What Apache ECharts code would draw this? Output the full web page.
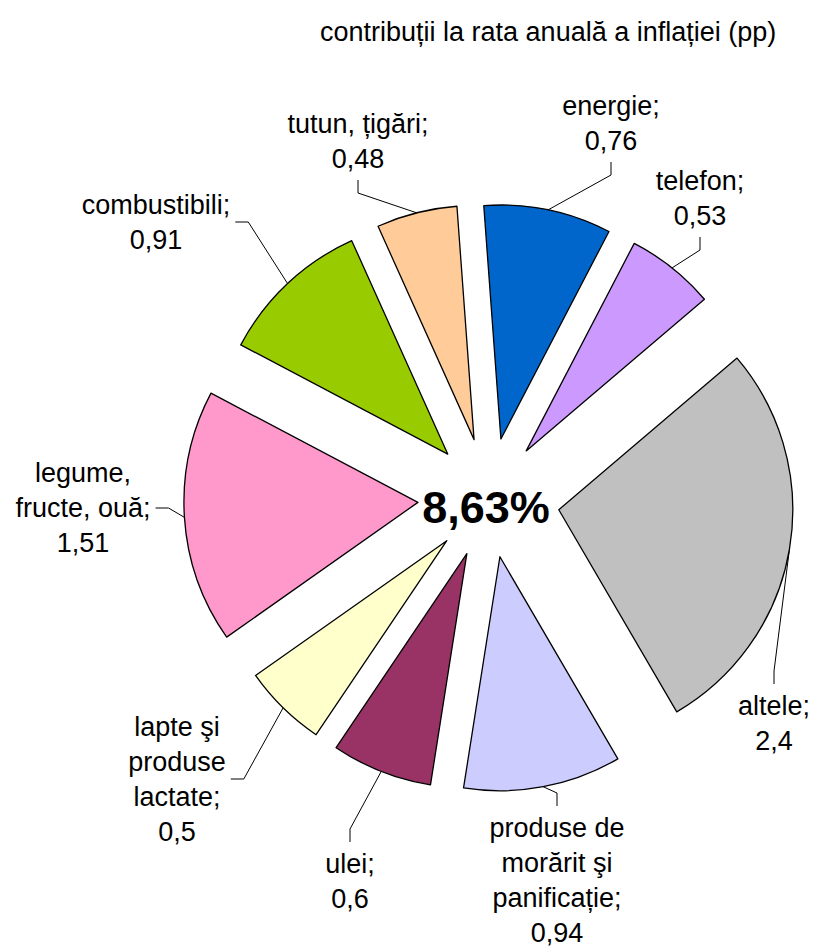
<!DOCTYPE html>
<html>
<head>
<meta charset="utf-8">
<script src="https://cdn.jsdelivr.net/npm/echarts@6/dist/echarts.min.js"></script>
<style>
    html, body { margin: 0; padding: 0; background: #fff; }
    #main { width: 814px; height: 950px; }
</style>
</head>
<body>
<div id="main"></div>
<script>
// contribuții la rata anuală a inflației

const categories = ['energie', 'telefon', 'altele', 'produse de\nmorărit şi\npanificație', 'ulei',
    'lapte şi\nproduse\nlactate', 'legume,\nfructe, ouă', 'combustibili', 'tutun, țigări'];
const values = [0.76, 0.53, 2.4, 0.94, 0.6, 0.5, 1.51, 0.91, 0.48];
const colors = ['#0066CC', '#CC99FF', '#C0C0C0', '#CCCCFF', '#993366', '#FFFFCC', '#FF99CC', '#99CC00', '#FFCC99'];

// layout: how far each slice is pulled out, where its label sits
const explode = [60, 60, 71, 60, 60, 60, 71, 60, 60];
const labelPos = [[611, 123], [700, 198], [774, 723], [557, 880], [350, 881],
    [177, 779], [83, 508], [156, 222], [358, 141]];
const labelSide = ['bottom', 'bottom', 'top', 'top', 'top', 'right', 'right', 'right', 'bottom'];

const CX = 488.8, CY = 497.8, R = 234, START = 94.2;
const FONT = '"Liberation Sans", Arial, sans-serif';

const total = values.reduce((a, b) => a + b, 0);
const fmt = v => String(v).replace('.', ',');

// mid angle of each slice (clockwise from 12 o'clock, degrees)
const midAngles = [];
let acc = 0;
values.forEach(v => {
    midAngles.push((90 - START) + (acc + v / 2) / total * 360);
    acc += v;
});

// centre of a pulled-out slice
function centerOf(i) {
    const a = midAngles[i] * Math.PI / 180;
    return [CX + explode[i] * Math.sin(a), CY - explode[i] * Math.cos(a)];
}

function anchorOf(i) {
    const a = midAngles[i] * Math.PI / 180;
    const c = centerOf(i);
    return [c[0] + R * Math.sin(a), c[1] - R * Math.cos(a)];
}

function layoutLabel(params) {
    const i = params.seriesIndex;
    const [x, y] = labelPos[i];
    const w = params.labelRect.width, h = params.labelRect.height;
    let end, elbow;
    if (labelSide[i] === 'bottom') {
        end = [x, y + h / 2 + 4];
        elbow = [x, y + h / 2 + 17];
    } else if (labelSide[i] === 'top') {
        end = [x, y - h / 2 - 4];
        elbow = [x, y - h / 2 - 17];
    } else {
        end = [x + w / 2 + 5, y];
        elbow = [x + w / 2 + 18, y];
    }
    return {
        x: x, y: y, align: 'center', verticalAlign: 'middle',
        labelLinePoints: [anchorOf(i), elbow, end]
    };
}

// one pie per slice, so each slice can be pulled out by its own amount
const series = values.map((v, k) => ({
    type: 'pie',
    silent: true,
    center: centerOf(k),
    radius: R,
    startAngle: START,
    clockwise: true,
    avoidLabelOverlap: false,
    emphasis: { disabled: true },
    label: {
        show: true,
        color: '#000',
        fontFamily: FONT,
        fontSize: 27,
        lineHeight: 35,
        align: 'center',
        formatter: p => p.name + ';\n' + fmt(p.value)
    },
    labelLine: { show: true, lineStyle: { color: '#000', width: 1 } },
    labelLayout: layoutLabel,
    data: categories.map((name, i) => ({
        name: name,
        value: values[i],
        itemStyle: i === k
            ? { color: colors[i], borderColor: '#000', borderWidth: 1.3 }
            : { color: 'rgba(0,0,0,0)', borderWidth: 0 },
        label: { show: i === k },
        labelLine: { show: i === k }
    }))
}));

const chart = echarts.init(document.getElementById('main'), null, { renderer: 'svg' });
chart.setOption({
    animation: false,
    title: {
        text: 'contribuții la rata anuală a inflației (pp)',
        left: 315,
        top: 13,
        textStyle: { fontFamily: FONT, fontSize: 27, fontWeight: 'normal', color: '#000' }
    },
    graphic: [{
        type: 'text',
        x: 486,
        y: 507,
        style: {
            text: fmt(total.toFixed(2)) + '%',
            font: 'bold 45px ' + FONT,
            fill: '#000',
            align: 'center',
            verticalAlign: 'middle'
        }
    }],
    series: series
});
</script>
</body>
</html>
